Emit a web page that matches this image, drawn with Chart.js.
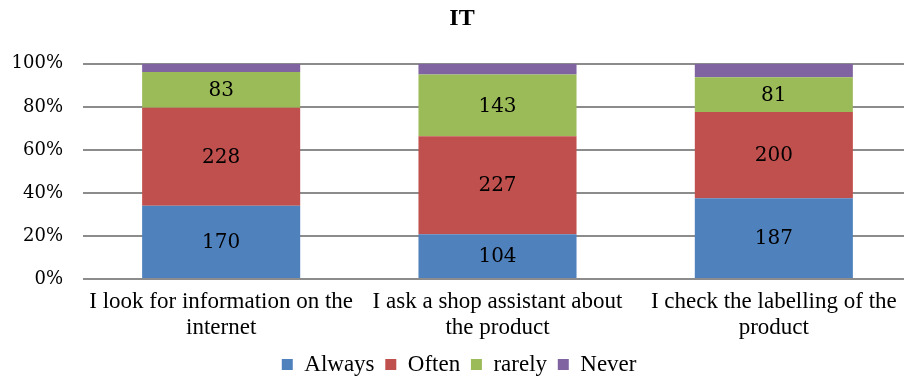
<!DOCTYPE html>
<html>
<head>
<meta charset="utf-8">
<script src="https://cdn.jsdelivr.net/npm/chart.js@4"></script>
<style>
  html, body { margin: 0; padding: 0; background: #fff; overflow: hidden; }
  #box { width: 920px; height: 379px; }
</style>
</head>
<body>
<div id="box"><canvas id="myChart"></canvas></div>
<script>
// answers per statement
const categories = [
  ["I look for information on the", "internet"],
  ["I ask a shop assistant about", "the product"],
  ["I check the labelling of the", "product"]
];
const always = [170, 104, 187];
const often = [228, 227, 200];
const rarely = [83, 143, 81];
const never = [19, 25, 31];
const seriesNames = ["Always", "Often", "rarely", "Never"];
const seriesColors = ["#4f81bd", "#c0504d", "#9bbb59", "#8064a2"];
const yTicks = [0, 20, 40, 60, 80, 100];

const raw = [always, often, rarely, never];
// totals per bar so every stack sums to 100%
const totals = categories.map((c, i) => raw.reduce((s, arr) => s + arr[i], 0));

const datasets = raw.map((arr, k) => ({
  label: seriesNames[k],
  data: arr.map((v, i) => v / totals[i] * 100),
  rawValues: arr,
  showValue: k < 3,
  backgroundColor: seriesColors[k],
  borderWidth: 0,
  barPercentage: 0.572,
  categoryPercentage: 1.0,
}));

// white background + numbers in the middle of each segment
const bgPlugin = {
  id: "bg",
  beforeDraw: (chart) => {
    const ctx = chart.ctx;
    ctx.save();
    ctx.fillStyle = "white";
    ctx.fillRect(0, 0, chart.width, chart.height);
    ctx.restore();
  },
};
const labelPlugin = {
  id: "segLabels",
  afterDatasetsDraw: (chart) => {
    const ctx = chart.ctx;
    ctx.save();
    ctx.font = "20px 'DejaVu Serif'";
    ctx.fillStyle = "#000";
    ctx.textAlign = "center";
    ctx.textBaseline = "middle";
    chart.data.datasets.forEach((ds, di) => {
      if (!ds.showValue) return;
      chart.getDatasetMeta(di).data.forEach((bar, i) => {
        const mid = (bar.y + bar.base) / 2;
        ctx.fillText(String(ds.rawValues[i]), bar.x, mid + 1);
      });
    });
    ctx.restore();
  },
};

const config = {
  type: "bar",
  data: { labels: categories, datasets: datasets },
  plugins: [bgPlugin, labelPlugin],
  options: {
    responsive: true,
    maintainAspectRatio: false,
    animation: false,
    layout: { padding: { left: 12, right: 8, top: 0, bottom: -7 } },
    plugins: {
      title: {
        display: true,
        text: "IT",
        color: "#000",
        font: { family: "'Liberation Serif'", size: 24, weight: "bold", lineHeight: 1.2 },
        padding: { top: 4, bottom: 31 },
      },
      legend: {
        position: "bottom",
        labels: {
          color: "#000",
          boxWidth: 11,
          boxHeight: 11,
          padding: 5,
          font: { family: "'Liberation Serif'", size: 23, lineHeight: 1.0 },
          // a trailing space widens the gap between entries
          generateLabels: (chart) =>
            Chart.defaults.plugins.legend.labels.generateLabels(chart).map(item => {
              item.text = item.text + " ";
              return item;
            }),
        },
      },
      tooltip: { enabled: false },
    },
    scales: {
      x: {
        stacked: true,
        grid: { display: false },
        border: { display: false },
        // long first label must not push the plot to the right
        afterFit: (scale) => {
          scale.paddingLeft = 0;
          scale.paddingRight = 0;
          scale.height += 5;
        },
        ticks: {
          color: "#000",
          maxRotation: 0,
          autoSkip: false,
          padding: 2,
          font: { family: "'Liberation Serif'", size: 23, lineHeight: 1.13 },
        },
      },
      y: {
        stacked: true,
        min: 0,
        max: 100,
        afterBuildTicks: (axis) => { axis.ticks = yTicks.map(v => ({ value: v })); },
        afterFit: (scale) => { scale.width = 71; },
        grid: { color: "#8c8c8c", lineWidth: 2, drawTicks: false },
        border: { display: false },
        ticks: {
          color: "#000",
          padding: 20,
          font: { family: "'DejaVu Serif'", size: 18 },
          callback: (v) => v + "%",
        },
      },
    },
  },
};
new Chart(document.getElementById("myChart"), config);
</script>
</body>
</html>
